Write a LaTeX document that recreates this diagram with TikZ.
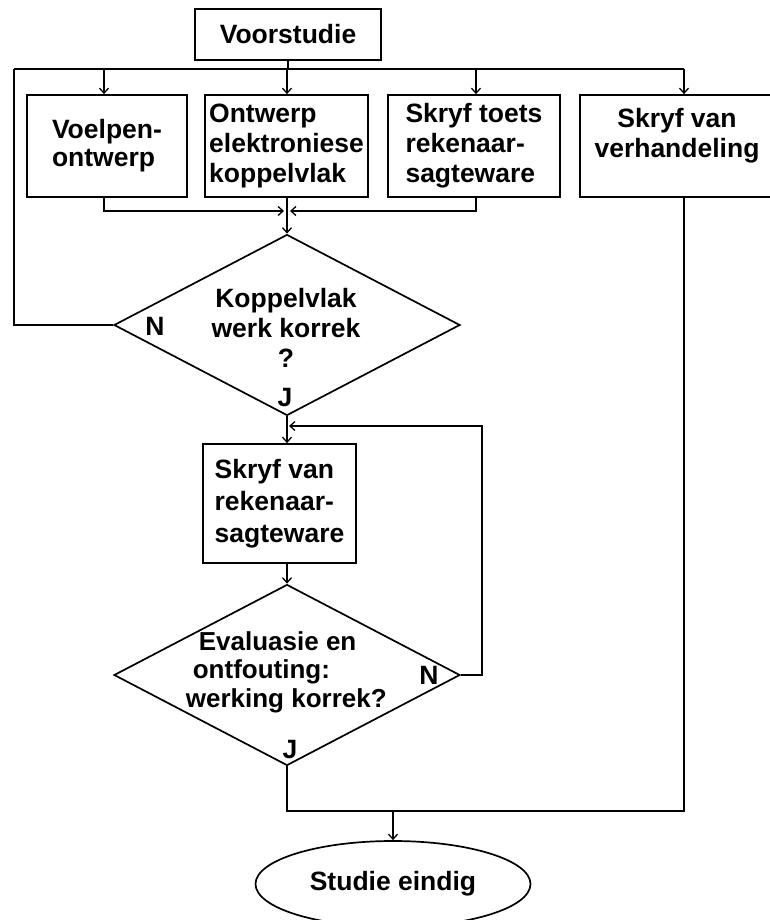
\documentclass[tikz,border=0pt]{standalone}
\usepackage{fontspec}
\setmainfont{Liberation Sans}
\usetikzlibrary{arrows.meta,shapes.geometric,calc}
\begin{document}
\begin{tikzpicture}[x=1pt,y=-1pt,
  line width=1.7pt,
  txt/.style={font=\fontsize{26.5}{30}\selectfont\bfseries, inner sep=0pt},
  box/.style={draw, rectangle, inner sep=0pt, txt},
  dia/.style={draw, diamond, inner sep=0pt, minimum width=346pt, minimum height=181pt},
  arr/.style={-{Straight Barb[length=5pt,width=9pt,line width=1.3pt]}},
]
\useasboundingbox (0,0) rectangle (770,920);

% nodes
\node[box, minimum width=186pt, minimum height=51pt] (pre) at (288,34.5) {Voorstudie};
\node[box, minimum width=160pt, minimum height=102pt, align=left,
      font=\fontsize{26.5}{28}\selectfont\bfseries] (b1) at (107,146) {Voelpen-\\ontwerp};
\node[box, minimum width=163pt, minimum height=102pt, align=left] (b2) at (286.5,146) {Ontwerp\\elektroniese\\koppelvlak};
\node[box, minimum width=172pt, minimum height=102pt, align=left] (b3) at (474,146) {Skryf toets\\rekenaar-\\sagteware};
\node[box, minimum width=194pt, minimum height=102pt] (b4) at (677,146) {};
\node[txt, align=center] (b4t) at (677,136) {Skryf van\\verhandeling};

\node[dia] (d1) at (287,325) {};
\node[txt, align=center] (d1t) at (286,328) {Koppelvlak\\werk korrek\\?};
\node[txt] (n1) at (155,326) {N};
\node[txt] (j1) at (285,398) {J};

\node[box, minimum width=153pt, minimum height=119pt, align=left,
      font=\fontsize{26.5}{32}\selectfont\bfseries] (b5) at (279.5,503.5) {Skryf van\\rekenaar-\\sagteware};

\node[dia] (d2) at (287,675) {};
\node[txt, align=left, anchor=west, font=\fontsize{26}{28.5}\selectfont\bfseries] (d2t) at (185,672)
  {\hspace*{13pt}Evaluasie en\\\hspace*{7pt}ontfouting:\\werking korrek?};
\node[txt] (n2) at (429,675) {N};
\node[txt] (j2) at (290,750) {J};

\node[draw, ellipse, minimum width=275pt, minimum height=86pt, inner sep=0pt, txt] (end) at (393,884) {Studie eindig};

% coordinates
\coordinate (busL) at (14,69);
\coordinate (busR) at (684,69);
\coordinate (t1) at (104,69);
\coordinate (t2) at (287,69);
\coordinate (t3) at (476,69);
\coordinate (mg) at (287,211);
\coordinate (lp) at (482,426);
\coordinate (m2) at (684,811);

% connectors
\draw (pre.south) -- (pre.south |- busL);
\draw (busL) -- (busR);
\draw[arr] (t1) -- (t1 |- b1.north);
\draw[arr] (t2) -- (t2 |- b2.north);
\draw[arr] (t3) -- (t3 |- b3.north);
\draw[arr] (busR) -- (busR |- b4.north);
\draw (busL) |- (d1.west);

\draw[arr] (b1.south -| t1) |- ($(mg)+(-3,0)$);
\draw[arr] (b3.south -| t3) |- ($(mg)+(3,0)$);
\draw[arr] (b2.south -| mg) -- (d1.north);

\draw[arr] (d1.south) -- (d1.south |- b5.north);
\draw[arr] (d2.east) -| (lp) -- ($(d1.south |- lp)+(2,0)$);
\draw[arr] (b5.south -| d2.north) -- (d2.north);

\draw (d2.south) |- (m2) -- (m2 |- b4.south);
\draw[arr] (end.north |- m2) -- (end.north);
\end{tikzpicture}
\end{document}
